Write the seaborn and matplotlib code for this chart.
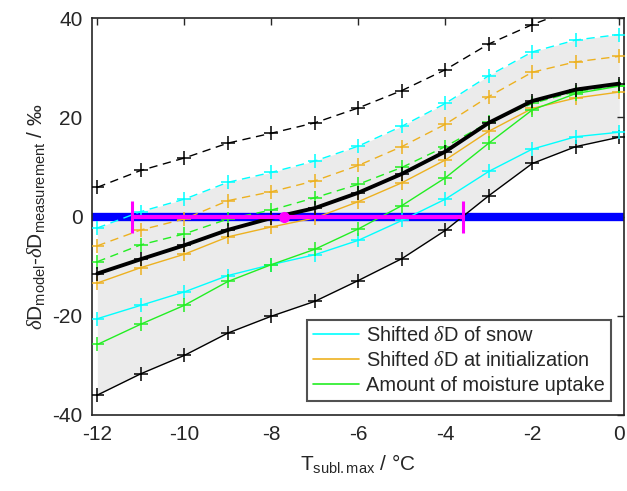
import numpy as np
import pandas as pd
import matplotlib
matplotlib.use("Agg")
import matplotlib.pyplot as plt
from matplotlib.lines import Line2D
import seaborn as sns

sns.set_theme(style="white")
plt.rcParams['font.family'] = ['Liberation Sans', 'DejaVu Sans']
plt.rcParams['mathtext.fontset'] = 'custom'
plt.rcParams['mathtext.rm'] = 'Liberation Sans'
plt.rcParams['mathtext.it'] = 'Liberation Serif:italic'
plt.rcParams['axes.unicode_minus'] = False

# ---- data ----
t_subl = [-12, -11, -10, -9, -8, -7, -6, -5, -4, -3, -2, -1, 0]

mean_line = [-11.5, -8.6, -5.8, -2.7, -0.3, 1.7, 4.8, 8.6, 13.1, 18.9, 23.3, 25.6, 26.8]
black_upper = [5.9, 9.3, 11.8, 14.8, 16.8, 18.9, 21.9, 25.4, 29.6, 34.8, 38.7, 42.0, 44.5]
black_lower = [-36.0, -31.7, -28.0, -23.5, -20.1, -17.1, -12.9, -8.5, -2.8, 4.2, 10.7, 14.1, 16.0]
snow_upper = [-2.3, 1.0, 3.5, 6.9, 8.9, 11.2, 14.2, 18.2, 22.8, 28.4, 33.2, 35.6, 36.7]
snow_lower = [-20.6, -17.9, -15.2, -11.9, -9.7, -7.7, -4.8, -0.8, 3.5, 9.1, 13.6, 16.1, 17.0]
init_upper = [-5.9, -2.7, -0.5, 3.2, 5.0, 7.2, 10.3, 14.1, 18.6, 24.2, 29.1, 31.2, 32.3]
init_lower = [-13.4, -10.3, -7.6, -4.1, -2.1, -0.3, 3.0, 6.8, 11.4, 17.2, 21.8, 23.9, 25.1]
uptake_upper = [-9.1, -5.7, -3.5, -0.5, 1.3, 3.8, 6.5, 9.9, 14.1, 19.0, 22.8, 25.2, 26.4]
uptake_lower = [-25.8, -21.7, -17.9, -13.1, -9.7, -6.6, -2.5, 2.2, 7.8, 14.8, 21.5, 24.8, 26.3]

zero_cross = -7.72
zero_lo = -11.2
zero_hi = -3.6

legend_labels = [r"Shifted $\delta$D of snow", r"Shifted $\delta$D at initialization",
                 "Amount of moisture uptake"]

CYAN = "#00FFFF"
ORANGE = "#EDB120"
GREEN = "#22EE22"
MAG = "#FF00FF"

df = pd.DataFrame({"T": t_subl, "mean": mean_line, "bu": black_upper, "bl": black_lower,
                   "su": snow_upper, "sl": snow_lower, "iu": init_upper, "il": init_lower,
                   "uu": uptake_upper, "ul": uptake_lower})

fig = plt.figure(figsize=(6.27, 4.91), dpi=100)
ax = fig.add_axes([0.147, 0.155, 0.849, 0.808])

ax.fill_between(df["T"], df["bl"], df["su"], color="#EBEBEB", lw=0, zorder=0)

ax.axhline(0, color="#0000FF", lw=6, zorder=1)

def series(col, color, ls, lw, z=3):
    sns.lineplot(data=df, x="T", y=col, ax=ax, color=color, linestyle=ls, lw=lw,
                 marker="+", markersize=10, markeredgewidth=1.1, markeredgecolor=color,
                 zorder=z, legend=False)

dash = (0, (6, 4))
series("bu", "black", dash, 1.0)
series("bl", "black", "-", 1.0)
series("su", CYAN, dash, 1.0)
series("sl", CYAN, "-", 1.0)
series("iu", ORANGE, dash, 1.0)
series("il", ORANGE, "-", 1.0)
series("uu", GREEN, dash, 1.0)
series("ul", GREEN, "-", 1.0)
series("mean", "black", "-", 2.8, z=4)

ax.errorbar([zero_cross], [0], xerr=[[zero_cross - zero_lo], [zero_hi - zero_cross]],
            fmt="o", color=MAG, ms=7, elinewidth=3, capsize=11.5, capthick=2.2, zorder=5)

ax.set_xlim(-12.12, 0.12)
ax.set_ylim(-40, 40)
ax.set_xticks([-12, -10, -8, -6, -4, -2, 0])
ax.set_yticks([-40, -20, 0, 20, 40])
ax.tick_params(direction="in", length=5, width=1, top=True, right=True,
               labelsize=15, colors="#262626", pad=7)
for s in ax.spines.values():
    s.set_color("#262626")
    s.set_linewidth(1.2)
    s.set_visible(True)

ax.set_xlabel(r"T$_{\mathrm{subl.max}}$ / °C", fontsize=15, color="#262626", labelpad=6)
ax.set_ylabel(r"$\delta$D$_{\mathrm{model}}$-$\delta$D$_{\mathrm{measurement}}$ / ‰",
              fontsize=15, color="#262626", labelpad=4)

handles = [Line2D([], [], color=CYAN, lw=1.2), Line2D([], [], color=ORANGE, lw=1.2),
           Line2D([], [], color=GREEN, lw=1.2)]
leg = ax.legend(handles, legend_labels, loc="lower right", bbox_to_anchor=(0.974, 0.036),
                fontsize=14.4, frameon=True, fancybox=False, handlelength=2.3,
                borderpad=0.3, labelspacing=0.3, handletextpad=0.35, borderaxespad=0)
leg.get_frame().set_edgecolor("#262626")
leg.get_frame().set_linewidth(1.5)

fig.savefig("out.png", dpi=100)
